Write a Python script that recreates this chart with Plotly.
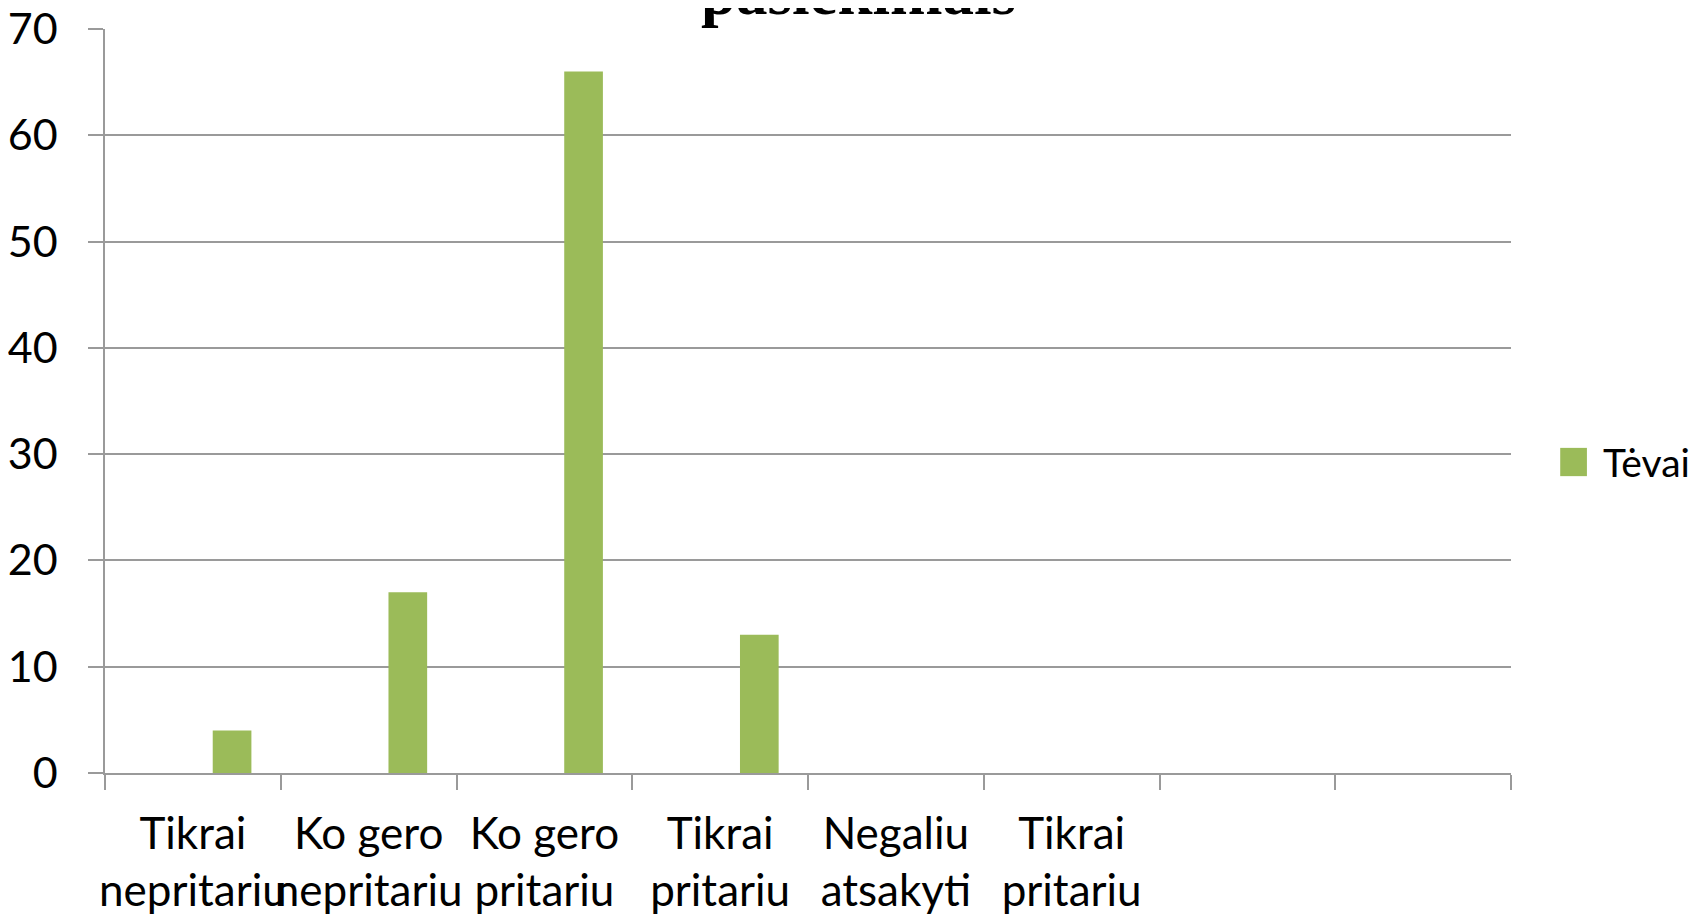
import plotly.graph_objects as go

# data
categories = ["Tikrai<br>nepritariu", "Ko gero<br>nepritariu", "Ko gero<br>pritariu",
              "Tikrai<br>pritariu", "Negaliu<br>atsakyti", "Tikrai<br>pritariu", "", ""]
tevai = [4, 17, 66, 13, 0, 0, 0, 0]
series_name = "Tėvai"
title_text = "pasiekimais"

BAR = "#9BBB59"
GRID = "#9a9a9a"
FONT = "Lato"

positions = list(range(len(categories)))

fig = go.Figure()
fig.add_trace(go.Bar(
    x=positions, y=tevai, name=series_name,
    marker=dict(color=BAR, line=dict(width=0)),
    width=0.22, offset=0.113,
    showlegend=False,
))

# the page body adds an 8px margin, so the figure is a bit smaller
fig.update_layout(
    width=1692, height=907,
    margin=dict(l=97, r=189, t=21, b=142),
    paper_bgcolor="white", plot_bgcolor="white",
    font=dict(family=FONT, size=44, color="black"),
    showlegend=False,
)

fig.update_xaxes(
    range=[-0.5, len(categories) - 0.5],
    tickmode="array", tickvals=positions, ticktext=categories,
    tickangle=0, automargin=False, ticklabeloverflow="allow",
    ticks="", showgrid=False, zeroline=False,
    showline=True, linecolor=GRID, linewidth=1.5,
    ticklabelstandoff=21,
    minor=dict(tickmode="array",
               tickvals=[p - 0.5 for p in positions] + [positions[-1] + 0.5],
               ticks="outside", ticklen=15, tickcolor=GRID, tickwidth=1.5,
               showgrid=False),
    tickfont=dict(family=FONT, size=44),
)

fig.update_yaxes(
    range=[0, 70], dtick=10, automargin=False, ticklabeloverflow="allow",
    showgrid=True, gridcolor=GRID, gridwidth=1.5,
    zeroline=False,
    showline=True, linecolor=GRID, linewidth=1.5,
    ticks="outside", ticklen=15, tickcolor=GRID, tickwidth=1.5,
    ticklabelstandoff=22,
    tickfont=dict(family=FONT, size=43),
)

# title, mostly cut off at the top of the page
fig.add_annotation(
    text="<b>" + title_text + "</b>", xref="paper", yref="paper",
    x=0.5356, y=1, xanchor="center", yanchor="bottom", yshift=-1,
    showarrow=False, font=dict(family="Liberation Serif", size=63, color="black"),
)

# legend
fig.add_shape(type="rect", xref="paper", yref="paper",
              x0=1.035, x1=1.054, y0=0.399, y1=0.437,
              fillcolor=BAR, line=dict(width=0))
fig.add_annotation(
    text=series_name, xref="paper", yref="paper",
    x=1.064, y=0.418, xanchor="left", yanchor="middle",
    showarrow=False, font=dict(family=FONT, size=39, color="black"),
)

fig.write_html("out.html")
